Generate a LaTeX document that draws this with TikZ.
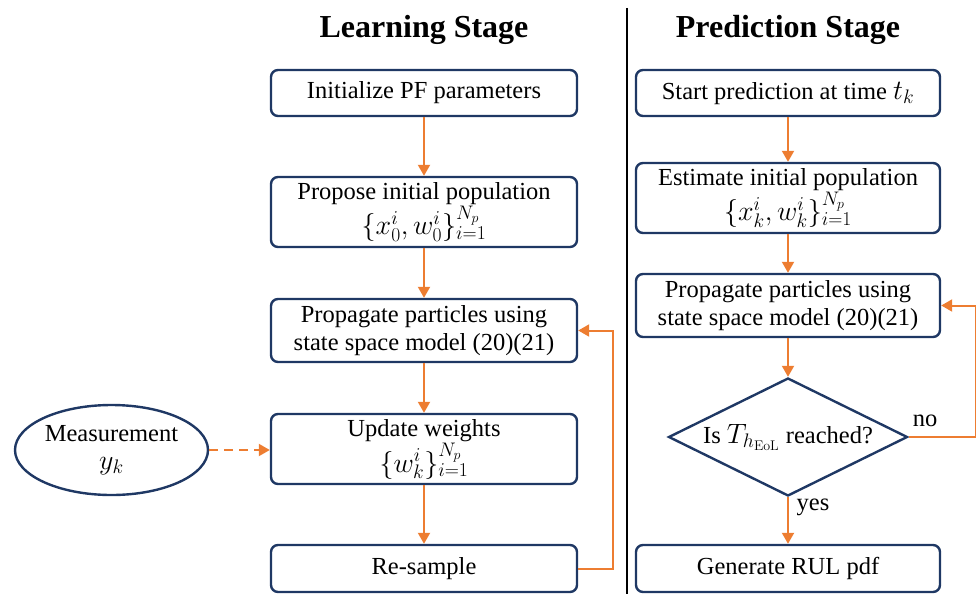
\documentclass[tikz,border=0pt]{standalone}
\usepackage{fix-cm}
\usepackage[no-math]{fontspec}
\setmainfont{Liberation Serif}
\usetikzlibrary{arrows.meta,shapes.geometric}
\definecolor{navy}{HTML}{1F3864}
\definecolor{flow}{HTML}{ED7D31}
% formulas are set a little larger than the surrounding text
\newcommand\fmla[1]{{\fontsize{28}{30}\selectfont$#1$}}
\begin{document}
\begin{tikzpicture}[x=1pt,y=-1pt,
  txt/.style={font=\fontsize{24.5}{28}\selectfont},
  box/.style={txt, draw=navy, line width=2.4pt, rounded corners=7pt,
    minimum width=306pt, align=center, inner sep=0pt, fill=white},
  rbox/.style={box, minimum width=304pt},
  decision/.style={txt, draw=navy, line width=2.4pt, diamond, shape aspect=2,
    inner sep=0pt, minimum width=239pt, minimum height=118pt, align=center},
  source/.style={txt, draw=navy, line width=2.4pt, ellipse, inner sep=0pt,
    minimum width=193pt, minimum height=90pt, align=center},
  flowarrow/.style={draw=flow, line width=2pt, -{Triangle[width=12pt,length=11pt]}},
  title/.style={font=\bfseries\fontsize{32}{36}\selectfont}
]
\useasboundingbox (0,0) rectangle (976,594);

% column headings and divider
\node[title] (tl) at (424,30) {Learning Stage};
\node[title] (tp) at (788,30) {Prediction Stage};
\draw[line width=1.5pt] (627,8) -- (627,594);

% learning stage
\node[box, minimum height=46pt] (b1) at (424,93) {Initialize PF parameters};
\node[box, minimum height=70pt] (b2) at (424,212) {Propose initial population\\[1pt] \fmla{\{x_0^i, w_0^i\}_{i=1}^{N_p}}};
\node[box, minimum height=63pt] (b3) at (424,330.5) {Propagate particles using\\ state space model (20)(21)};
\node[box, minimum height=70pt] (b4) at (424,449) {Update weights\\[1pt] \fmla{\{w_k^i\}_{i=1}^{N_p}}};
\node[box, minimum height=47pt] (b5) at (424,568.5) {Re-sample};
\node[source] (meas) at (111.5,450) {Measurement\\ \fmla{y_k}};

\draw[flowarrow] (b1) -- (b2);
\draw[flowarrow] (b2) -- (b3);
\draw[flowarrow] (b3) -- (b4);
\draw[flowarrow] (b4) -- (b5);
\draw[flowarrow, dashed, dash pattern=on 9pt off 6pt] (meas.east) -- (b4.west |- meas.east);
\draw[flowarrow] (b5.east) -- ++(35,0) |- (b3.east);

% prediction stage
\node[rbox, minimum height=46pt] (r1) at (788,93) {Start prediction at time \fmla{t_k}};
\node[rbox, minimum height=70pt] (r2) at (788,198) {Estimate initial population\\[1pt] \fmla{\{x_k^i, w_k^i\}_{i=1}^{N_p}}};
\node[rbox, minimum height=63pt] (r3) at (788,305.5) {Propagate particles using\\ state space model (20)(21)};
\node[decision] (dec) at (788,437) {Is \fmla{T_{h_{\mathrm{EoL}}}} reached?};
\node[rbox, minimum height=47pt] (r4) at (788,568.5) {Generate RUL pdf};

\draw[flowarrow] (r1) -- (r2);
\draw[flowarrow] (r2) -- (r3);
\draw[flowarrow] (r3) -- (dec);
\draw[flowarrow] (dec) -- (r4);
\draw[flowarrow] (dec.east) -- ++(67,0) |- (r3.east);

\node[txt] (no) at (925,421) {no};
\node[txt] (yes) at (813,507) {yes};
\end{tikzpicture}
\end{document}
